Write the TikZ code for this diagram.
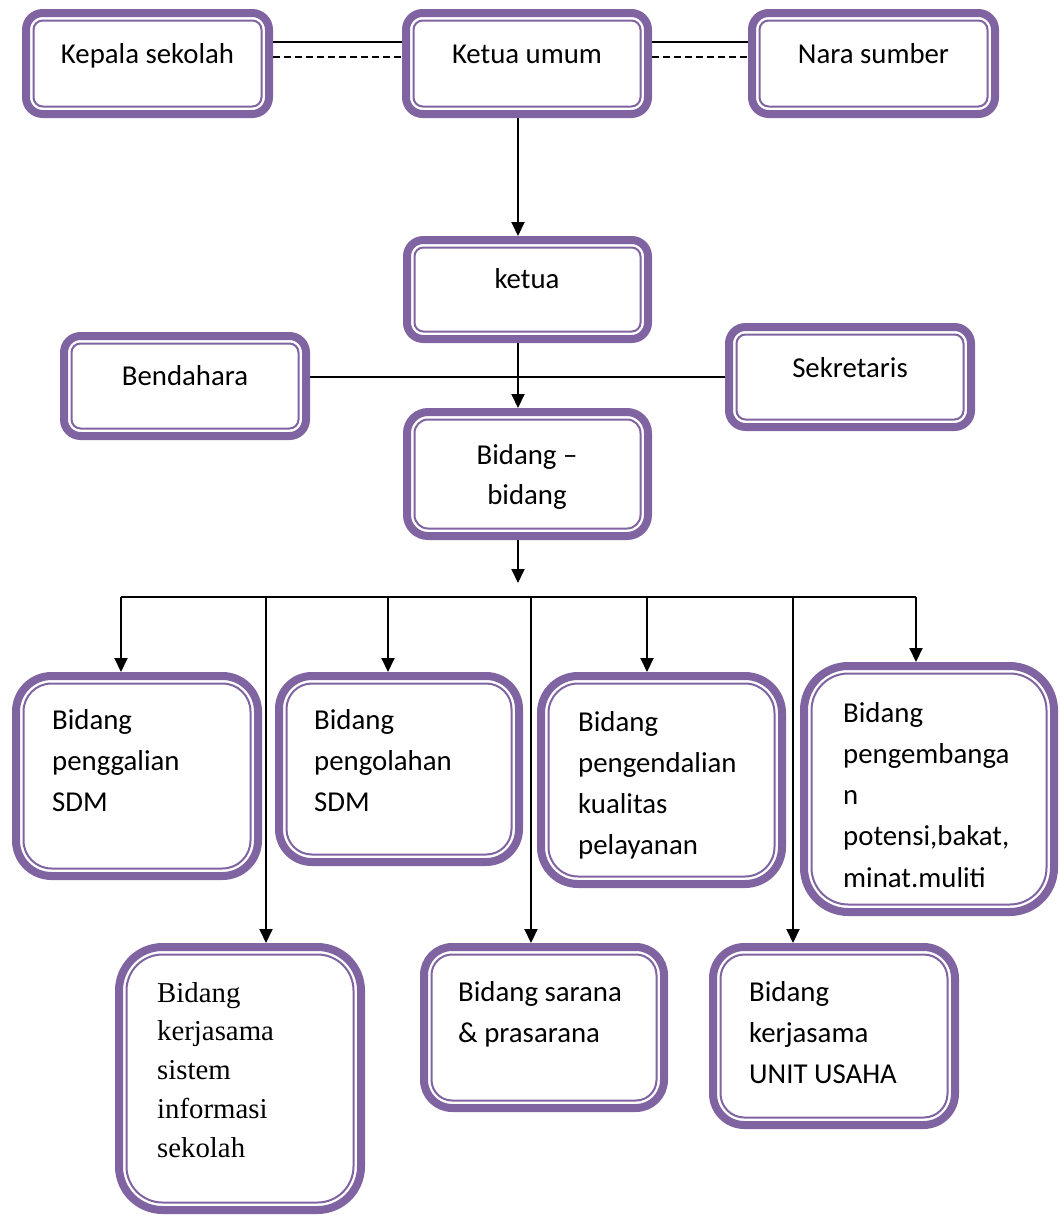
\documentclass[tikz,border=0pt]{standalone}
\usepackage{fontspec}
\setmainfont{Carlito}
\newfontfamily\tnr{Liberation Serif}
\usetikzlibrary{arrows.meta}
\definecolor{boxpurple}{RGB}{128,100,162}
\tikzset{
  obox/.style={draw=boxpurple, line width=8pt, fill=white, inner sep=0pt, shape=rectangle},
  ibox/.style={draw=boxpurple, line width=2pt},
  lbl/.style={font=\fontsize{28.8}{41.3}\selectfont, inner sep=0pt},
  ctxt/.style={lbl, anchor=base},
  ltxt/.style={lbl, anchor=base west, text width=230pt, align=flush left},
  conn/.style={line width=1.6pt},
  dconn/.style={line width=1.5pt, dash pattern=on 7pt off 4pt},
  arr/.style={line width=2pt, -{Triangle[width=13pt,length=14pt]}}
}
\newcommand\obox[5]{%
  \pgfmathsetmacro\obw{#4-#2}%
  \pgfmathsetmacro\obh{#5-#3}%
  \pgfmathsetmacro\obwi{\obw-8}%
  \pgfmathsetmacro\obhi{\obh-8}%
  \pgfmathsetmacro\obr{0.19*min(\obw,\obh)}%
  \pgfmathsetmacro\obra{\obr-4}%
  \pgfmathsetmacro\obrb{\obr-11.5}%
  \node[obox, minimum width=\obwi pt, minimum height=\obhi pt, rounded corners=\obra pt] (#1) at ({(#2+#4)/2},{(#3+#5)/2}) {};
  \draw[ibox, rounded corners=\obrb pt] (#2+11.5,#3+11.5) rectangle (#4-11.5,#5-11.5);
}
\begin{document}
\begin{tikzpicture}[x=1pt,y=-1pt]
\useasboundingbox (0,0) rectangle (1060,1216);
% boxes
\obox{kep}{22}{9}{273}{118}
\obox{kum}{402}{9}{652}{118}
\obox{nara}{748}{9}{999}{118}
\obox{ket}{403}{236}{652}{343}
\obox{bend}{60}{332}{310}{440}
\obox{sek}{725}{323}{975}{431}
\obox{bb}{403}{408}{652}{540}
\obox{pg}{12}{672}{262}{880}
\obox{po}{275}{672}{523}{866}
\obox{pk}{537}{672}{786}{888}
\obox{pb}{800}{662}{1058}{916}
\obox{si}{115}{943}{365}{1214}
\obox{sr}{420}{943}{668}{1112}
\obox{uu}{709}{943}{959}{1129}
% texts
\node[ctxt] (tkep) at (147.5,63) {Kepala sekolah};
\node[ctxt] (tkum) at (527,63) {Ketua umum};
\node[ctxt] (tnara) at (873.5,63) {Nara sumber};
\node[ctxt] (tket) at (527,288) {ketua};
\node[ctxt] (tbend) at (185,385) {Bendahara};
\node[ctxt] (tsek) at (850,377) {Sekretaris};
\node[ctxt, font=\fontsize{28.8}{40}\selectfont, text width=220pt, align=flush center] (tbb) at (527,464) {Bidang –\\bidang};
\node[ltxt] (tpg) at (52,729) {Bidang\\penggalian\\SDM};
\node[ltxt] (tpo) at (314,729) {Bidang\\pengolahan\\SDM};
\node[ltxt] (tpk) at (578,731) {Bidang\\pengendalian\\kualitas\\pelayanan};
\node[ltxt] (tpb) at (843,722) {Bidang\\pengembanga\\n\\potensi,bakat,\\minat.muliti};
\node[ltxt, font=\tnr\fontsize{28.8}{38.75}\selectfont] (tsi) at (157,1002) {Bidang\\kerjasama\\sistem\\informasi\\sekolah};
\node[ltxt] (tsr) at (458,1001) {Bidang sarana\\\& prasarana};
\node[ltxt] (tuu) at (749,1001) {Bidang\\kerjasama\\UNIT USAHA};
% helper coordinates
\coordinate (ys) at (0,42);
\coordinate (yd) at (0,57);
\coordinate (yb) at (0,377);
\coordinate (ax) at (518,0);
\coordinate (hub) at (518,583);
\coordinate (b1) at (121,597);
\coordinate (c1) at (266,597);
\coordinate (b2) at (388,597);
\coordinate (c2) at (531,597);
\coordinate (b3) at (647,597);
\coordinate (c3) at (793,597);
\coordinate (b4) at (916,597);
% top connectors
\draw[conn] (kep.east |- ys) -- (kum.west |- ys);
\draw[dconn] (kep.east |- yd) -- (kum.west |- yd);
\draw[conn] (kum.east |- ys) -- (nara.west |- ys);
\draw[dconn] (kum.east |- yd) -- (nara.west |- yd);
\draw[arr] (kum.south -| ax) -- (ket.north -| ax);
\draw[conn] (bend.east |- yb) -- (sek.west |- yb);
\draw[arr] (ket.south -| ax) -- (bb.north -| ax);
\draw[arr] (bb.south -| ax) -- (hub);
\draw[conn] (b1) -- (b4);
% branches
\draw[arr] (b1) -- (pg.north -| b1);
\draw[arr] (b2) -- (po.north -| b2);
\draw[arr] (b3) -- (pk.north -| b3);
\draw[arr] (b4) -- (pb.north -| b4);
\draw[arr] (c1) -- (si.north -| c1);
\draw[arr] (c2) -- (sr.north -| c2);
\draw[arr] (c3) -- (uu.north -| c3);
\end{tikzpicture}
\end{document}
